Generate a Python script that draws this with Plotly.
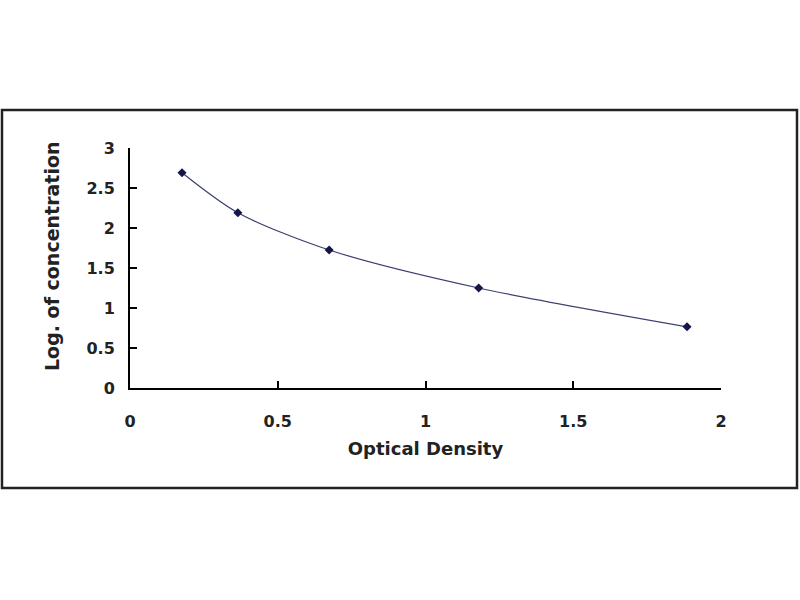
import plotly.graph_objects as go

optical_density = [0.176, 0.365, 0.674, 1.18, 1.885]
log_concentration = [2.69, 2.19, 1.725, 1.25, 0.765]

x_ticks = [0, 0.5, 1, 1.5, 2]
x_tick_labels = ["0", "0.5", "1", "1.5", "2"]
y_ticks = [0, 0.5, 1, 1.5, 2, 2.5, 3]
y_tick_labels = ["0", "0.5", "1", "1.5", "2", "2.5", "3"]

font_family = "DejaVu Sans, Arial, sans-serif"
text_color = "#222"

fig = go.Figure()
fig.add_trace(go.Scatter(
    x=optical_density, y=log_concentration,
    mode="lines+markers",
    line=dict(color="#3a3f6e", width=1.2, shape="spline", smoothing=0.8),
    marker=dict(symbol="diamond", size=7, color="#14164a"),
    showlegend=False,
))

axis_common = dict(
    showgrid=False, zeroline=False, showline=True, linecolor="black", linewidth=2,
    ticks="inside", ticklen=7, tickwidth=1.5, tickcolor="black",
    tickfont=dict(family=font_family, size=16, color=text_color, weight="bold"),
)

fig.update_xaxes(
    range=[0, 2], tickvals=x_ticks, ticktext=x_tick_labels,
    title=dict(text="Optical Density",
               font=dict(family=font_family, size=18, color=text_color, weight="bold"), standoff=12),
    ticklabelstandoff=18,
    **axis_common,
)
fig.update_yaxes(
    range=[0, 3], tickvals=y_ticks, ticktext=y_tick_labels,
    ticklabelstandoff=10,
    **axis_common,
)

# y title placed by hand, it sits a bit above the middle of the axis
fig.add_annotation(text="Log. of concentration", xref="paper", yref="paper",
                   x=-0.132, y=0.55, xanchor="center", yanchor="middle",
                   textangle=-90, showarrow=False,
                   font=dict(family=font_family, size=19, color=text_color, weight="bold"))

# outer frame around the chart area
fig.add_shape(type="rect", xref="paper", yref="paper",
              x0=-0.2166, x1=1.1286, y0=-0.4167, y1=1.1583,
              line=dict(color="#222", width=2.5), fillcolor="rgba(0,0,0,0)", layer="below")

fig.update_layout(
    width=800, height=600,
    margin=dict(l=130, r=79, t=148, b=212),
    plot_bgcolor="white", paper_bgcolor="white",
)

fig.write_html("out.html", config={"displayModeBar": False},
               post_script="document.body.style.margin='0';")
